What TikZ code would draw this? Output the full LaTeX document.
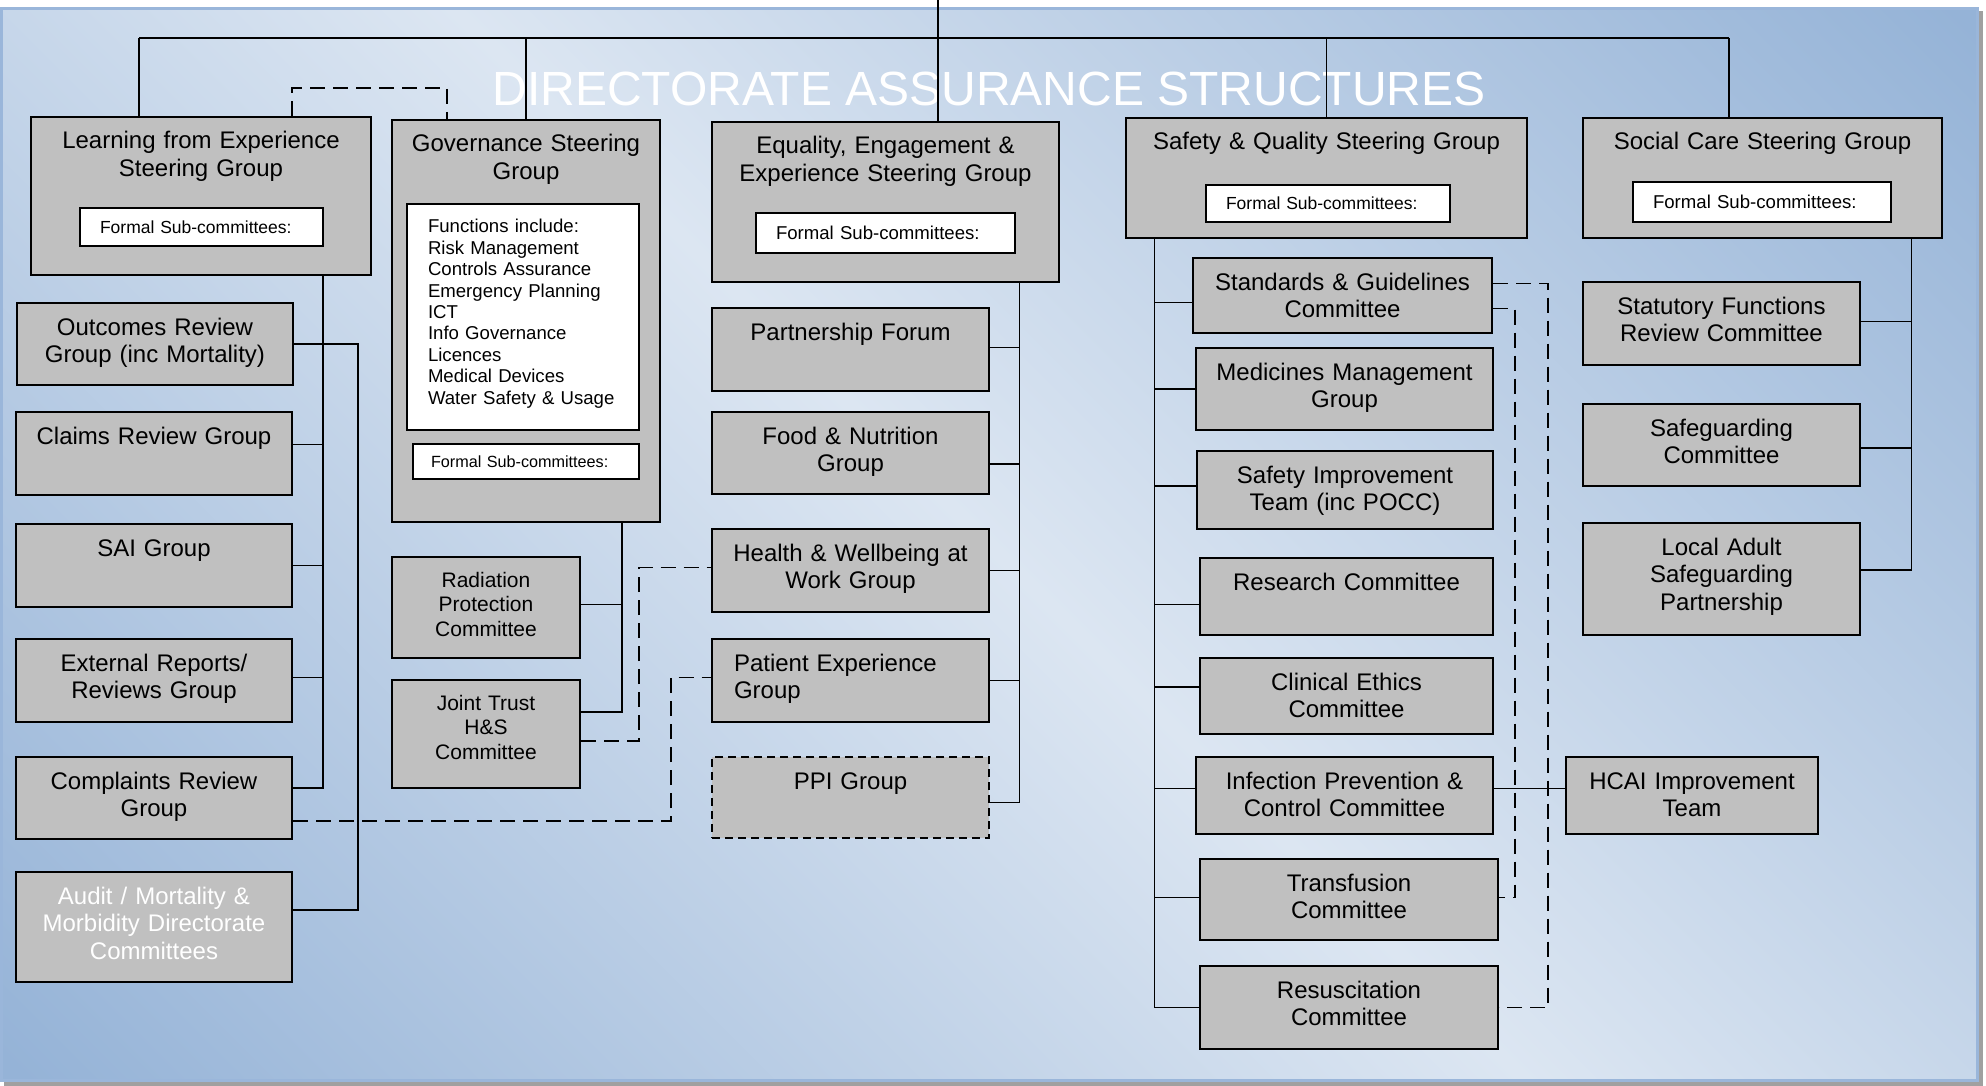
\documentclass[tikz,border=0pt]{standalone}
\usepackage{fontspec}
\setmainfont{Liberation Sans}
\usepackage{tikz}
\definecolor{boxgray}{HTML}{C0C0C0}
\definecolor{bglight}{HTML}{DCE6F2}
\definecolor{bgblue}{HTML}{95B3D7}
\definecolor{bgedge}{HTML}{9AB6DA}
\definecolor{shadowgray}{HTML}{A0A0A0}
\pgfdeclarehorizontalshading{bgshade}{100bp}{color(0bp)=(bgblue); color(15bp)=(bgblue); color(50bp)=(bglight); color(85bp)=(bgblue); color(100bp)=(bgblue)}
\newcommand\boxfont{\fontsize{24pt}{27.5pt}\selectfont}
\newcommand\smallboxfont{\fontsize{21pt}{24.5pt}\selectfont}
\newcommand\subfont{\fontsize{17.5pt}{20pt}\selectfont}
\newcommand\subfontlg{\fontsize{18.6pt}{21pt}\selectfont}
\newcommand\subfontsm{\fontsize{16.2pt}{19pt}\selectfont}
\newcommand\listfont{\fontsize{18.6pt}{21.4pt}\selectfont}
\newcommand\titlefont{\fontsize{48pt}{56pt}\selectfont}
\tikzset{grp/.style={draw, line width=2pt, fill=boxgray, inner sep=0pt, anchor=north west, align=center, font=\boxfont, text height=32pt}}
\tikzset{dims/.style 2 args={text width=#1pt, text depth=#2pt-32pt}}
\tikzset{subbox/.style={draw, line width=2pt, fill=white, anchor=north west, inner xsep=20pt, inner ysep=0pt, align=left, font=\subfont}}
\tikzset{fnbox/.style={draw, line width=2pt, fill=white, anchor=north west, inner xsep=21pt, inner ysep=0pt, align=left, font=\listfont, text height=29pt}}
\tikzset{
  link/.style={draw, line width=1.6pt},
  dlink/.style={draw, line width=1.6pt, dash pattern=on 15pt off 8pt}
}

\begin{document}
\begin{tikzpicture}[x=1pt, y=-1pt]
\useasboundingbox (0,0) rectangle (1986,1086);
\fill[white] (0,0) rectangle (1986,1086);
\fill[shadowgray] (4,11) rectangle (1983,1086);
\shadedraw[shading=bgshade, shading angle=45, draw=bgedge, line width=3pt] (1.5,8.5) rectangle (1977.5,1080.5);
\node[font=\titlefont, text=white, inner sep=0pt] (ttl) at (989,89) {DIRECTORATE ASSURANCE STRUCTURES};

% steering groups
\node[grp, dims={340}{158}] (learn) at (30,116) {Learning from Experience\\Steering Group};
\node[grp, dims={268}{402}] (gov) at (391,119) {Governance Steering\\Group};
\node[grp, dims={347}{160}] (eq) at (711,121) {Equality, Engagement \&\\Experience Steering Group};
\node[grp, dims={401}{120}] (sq) at (1125,117) {Safety \& Quality Steering Group};
\node[grp, dims={359}{120}] (soc) at (1582,117) {Social Care Steering Group};

\node[subbox, text width=203pt, minimum height=38pt] (learnsub) at (79,207) {Formal Sub-committees:};
\node[fnbox, text width=190pt, text depth=197pt] (govfn) at (406,203) {Functions include:\\Risk Management\\Controls Assurance\\Emergency Planning\\ICT\\Info Governance\\Licences\\Medical Devices\\Water Safety \& Usage};
\node[subbox, font=\subfontsm, inner xsep=18pt, text width=190pt, minimum height=35pt] (govsub) at (412,443) {Formal Sub-committees:};
\node[subbox, font=\subfontlg, text width=219pt, minimum height=40pt] (eqsub) at (755,212) {Formal Sub-committees:};
\node[subbox, text width=204pt, minimum height=37pt] (sqsub) at (1205,184) {Formal Sub-committees:};
\node[subbox, font=\subfontlg, text width=218pt, minimum height=40pt] (socsub) at (1632,181) {Formal Sub-committees:};

% learning from experience
\node[grp, dims={276}{82}] (outc) at (16,302) {Outcomes Review\\Group (inc Mortality)};
\node[grp, dims={276}{83}] (claims) at (15,411) {Claims Review Group};
\node[grp, dims={276}{83}] (sai) at (15,523) {SAI Group};
\node[grp, dims={276}{83}] (ext) at (15,638) {External Reports/\\Reviews Group};
\node[grp, dims={276}{82}] (compl) at (15,756) {Complaints Review\\Group};
\node[grp, dims={276}{110}, text=white] (audit) at (15,871) {Audit / Mortality \&\\Morbidity Directorate\\Committees};

% governance
\node[grp, font=\smallboxfont, text height=30pt, text width=188pt, text depth=71pt] (rad) at (391,556) {Radiation\\Protection\\Committee};
\node[grp, font=\smallboxfont, text height=30pt, text width=188pt, text depth=78pt] (jt) at (391,679) {Joint Trust\\H\&S\\Committee};

% equality, engagement
\node[grp, dims={277}{83}] (part) at (711,307) {Partnership Forum};
\node[grp, dims={277}{82}] (food) at (711,411) {Food \& Nutrition\\Group};
\node[grp, dims={277}{83}] (health) at (711,528) {Health \& Wellbeing at\\Work Group};
\node[grp, dims={233}{83}, inner xsep=22pt, align=left] (pat) at (711,638) {Patient Experience\\Group};
\node[grp, dims={277}{81}, dash pattern=on 8pt off 5pt] (ppi) at (711,756) {PPI Group};

% safety & quality
\node[grp, dims={299}{75}] (stand) at (1192,257) {Standards \& Guidelines\\Committee};
\node[grp, dims={297}{82}] (med) at (1195,347) {Medicines Management\\Group};
\node[grp, dims={296}{78}] (simp) at (1196,450) {Safety Improvement\\Team (inc POCC)};
\node[grp, dims={293}{77}] (res) at (1199,557) {Research Committee};
\node[grp, dims={293}{76}] (eth) at (1199,657) {Clinical Ethics\\Committee};
\node[grp, dims={297}{77}] (inf) at (1195,756) {Infection Prevention \&\\Control Committee};
\node[grp, dims={298}{81}] (trans) at (1199,858) {Transfusion\\Committee};
\node[grp, dims={298}{83}] (resus) at (1199,965) {Resuscitation\\Committee};

% social care
\node[grp, dims={277}{83}] (stat) at (1582,281) {Statutory Functions\\Review Committee};
\node[grp, dims={277}{82}] (safeg) at (1582,403) {Safeguarding\\Committee};
\node[grp, dims={277}{112}] (lasp) at (1582,522) {Local Adult\\Safeguarding\\Partnership};
\node[grp, dims={252}{77}] (hcai) at (1565,756) {HCAI Improvement\\Team};

% top bus
\coordinate (busL) at (139,38);
\coordinate (busR) at (1729,38);
\coordinate (feed) at (938,0);
\draw[link] (busL) -- (busR);
\draw[link] (busL) -- (busL |- learn.north);
\draw[link] (gov.north |- busL) -- (gov.north);
\draw[link] (feed) -- (feed |- eq.north);
\draw[link] (sq.north |- busL) -- (sq.north);
\draw[link] (busR) -- (busR |- soc.north);
\draw[dlink] ([xshift=91pt]learn.north) -- ++(0,-28) -| ([xshift=-79pt]gov.north);

% learning column
\coordinate (lv) at ([xshift=122pt]learn.south);
\coordinate (mv) at ([xshift=64pt]outc.east);
\draw[link] ([yshift=10pt]compl.east) -| (lv);
\draw[link] ([yshift=9pt]claims.east) -| (lv);
\draw[link] (sai.east) -| (lv);
\draw[link] ([yshift=3pt]ext.east) -| (lv);
\draw[link] (outc.east) -- (mv) |- ([yshift=17pt]audit.east);

% governance column
\coordinate (gv) at ([xshift=96pt]gov.south);
\draw[link] ([yshift=22pt]jt.east) -| (gv);
\draw[link] ([yshift=3pt]rad.east) -| (gv);
\draw[dlink] ([yshift=-7pt]jt.east) -- ++(58,0) |- ([yshift=3pt]health.west);
\draw[dlink] ([yshift=-23pt]compl.east) -- ++(378,0) |- ([yshift=3pt]pat.west);

% equality column
\coordinate (ev) at ([xshift=134pt]eq.south);
\draw[link] ([yshift=-5pt]ppi.east) -| (ev);
\draw[link] ([yshift=2pt]part.east) -| (ev);
\draw[link] ([yshift=-11pt]food.east) -| (ev);
\draw[link] (health.east) -| (ev);
\draw[link] (pat.east) -| (ev);

% safety column
\coordinate (sv) at ([xshift=-172pt]sq.south);
\draw[link] (resus.west) -| (sv);
\draw[link] ([yshift=-7pt]stand.west) -| (sv);
\draw[link] (med.west) -| (sv);
\draw[link] ([yshift=4pt]simp.west) -| (sv);
\draw[link] ([yshift=-8pt]res.west) -| (sv);
\draw[link] ([yshift=9pt]eth.west) -| (sv);
\draw[link] ([yshift=7pt]inf.west) -| (sv);
\draw[link] ([yshift=2pt]trans.west) -| (sv);
\draw[link] ([yshift=7pt]inf.east) -- ([yshift=7pt]hcai.west);
\draw[dlink] ([yshift=12pt]stand.east) -- ++(55,0) |- (resus.east);
\draw[dlink] ([yshift=-13pt]stand.east) -- ++(22,0) |- ([yshift=2pt]trans.east);

% social care column
\coordinate (cv) at ([xshift=149pt]soc.south);
\draw[link] ([yshift=9pt]lasp.east) -| (cv);
\draw[link] ([yshift=2pt]stat.east) -| (cv);
\draw[link] ([yshift=-3pt]safeg.east) -| (cv);
\end{tikzpicture}
\end{document}
